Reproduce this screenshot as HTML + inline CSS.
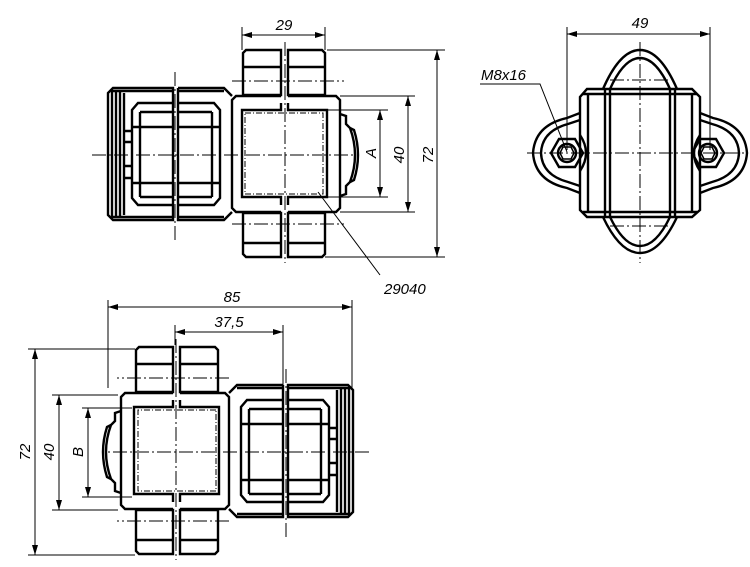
<!DOCTYPE html>
<html><head><meta charset="utf-8"><style>
html,body{margin:0;padding:0;background:#fff}
svg{display:block}
text{font-family:"Liberation Sans",sans-serif;font-style:italic;font-size:15px;fill:#000}
</style></head><body>
<svg width="750" height="567" viewBox="0 0 750 567" xmlns="http://www.w3.org/2000/svg">
<defs>
<marker id="ar" viewBox="0 0 10 6" refX="10" refY="3" markerWidth="11" markerHeight="6" orient="auto-start-reverse" markerUnits="userSpaceOnUse"><path d="M0,0 L10,3 L0,6 z" fill="#000"/></marker>
<g id="v1" fill="none" stroke="#000">
  <g stroke-width="2.4">
    <path d="M246,50 L281,50 L281,95 L243,95 L243,53 Z"/>
    <path d="M288,50 L322,50 L325,53 L325,95 L288,95 Z"/>
    <path d="M243,67 L281,67 M288,67 L325,67"/>
    <path d="M243,213 L281,213 L281,257 L246,257 L243,254 Z"/>
    <path d="M288,213 L325,213 L325,254 L322,257 L288,257 Z"/>
    <path d="M243,243 L281,243 M288,243 L325,243"/>
    <!-- body -->
    <path d="M281,96 L236,96 L232,100 L232,208 L236,212 L281,212"/>
    <path d="M288,96 L336,96 L340,100 L340,208 L336,212 L288,212"/>
    <path d="M281,103 L281,110 L242,110 L242,197 L281,197 L281,205"/>
    <path d="M288,103 L288,110 L327,110 L327,197 L288,197 L288,205"/>
    <path d="M340,114 L346,116 L346,124 L350,128 Q360,155 350,182 L346,186 L346,194 L340,196"/>
    <path d="M350,128 L354,130 Q362,155 354,180 L350,182"/>
    <!-- left nut -->
    <path d="M173,88 L113,88 L108,93 L108,215 L113,220 L173,220 Z"/>
    <path d="M178,88 L224,88 L232,96 M178,88 L178,220 L224,220 L232,212"/>
    <path d="M111,91 L173,91 M111,217 L173,217 M178,91 L224,91 M178,217 L224,217"/>
    <path d="M112,92 L112,216 M116,90 L116,218 M120,92 L120,216 M124,93 L124,215"/>
    <path d="M173,103 L138,103 L132,110 L132,198 L138,205 L173,205"/>
    <path d="M178,103 L214,103 L220,110 L220,198 L214,205 L178,205"/>
    <path d="M140,112 L173,112 M178,112 L212,112 M132,127 L173,127 M178,127 L220,127 M132,183 L173,183 M178,183 L220,183 M140,197 L173,197 M178,197 L212,197"/>
    <path d="M140,112 L140,197 M212,112 L212,197"/>
    <path d="M124,131 L132,131 M124,142 L132,142 M124,166 L132,166 M124,178 L132,178"/>
  </g>
  <path d="M245,113 L323,113 L323,194 L245,194 Z" stroke-width="1" stroke-dasharray="6,2,1,2"/>
  <g stroke-width="1" stroke-dasharray="14,3,2,3">
    <path d="M92,155 L356,155"/>
    <path d="M175,72 L175,243"/>
    <path d="M285,42 L285,263"/>
    <path d="M232,81 L344,81 M232,224 L344,224"/>
  </g>
</g>
</defs>

<use href="#v1"/>
<use href="#v1" transform="translate(461,297) scale(-1,1)"/>

<g fill="none" stroke="#000" stroke-width="1">
  <path d="M242,27 L242,50 M325,27 L325,50"/>
  <path d="M242,35 L325,35" marker-start="url(#ar)" marker-end="url(#ar)"/>
  <path d="M327,50 L445,50 M340,96 L415,96 M327,110 L388,110 M327,197 L388,197 M340,212 L415,212 M325,257 L445,257"/>
  <path d="M380,110 L380,197" marker-start="url(#ar)" marker-end="url(#ar)"/>
  <path d="M408,96 L408,212" marker-start="url(#ar)" marker-end="url(#ar)"/>
  <path d="M437,50 L437,257" marker-start="url(#ar)" marker-end="url(#ar)"/>
  <path d="M318,192 L380,275"/>
  <path d="M108,300 L108,388 M352,300 L352,388 M175,325 L175,345 M283,325 L283,388"/>
  <path d="M108,307 L352,307" marker-start="url(#ar)" marker-end="url(#ar)"/>
  <path d="M175,332 L283,332" marker-start="url(#ar)" marker-end="url(#ar)"/>
  <path d="M28,349 L135,349 M52,395 L118,395 M82,408 L132,408 M82,497 L132,497 M52,510 L118,510 M28,555 L135,555"/>
  <path d="M35,349 L35,555" marker-start="url(#ar)" marker-end="url(#ar)"/>
  <path d="M59,395 L59,510" marker-start="url(#ar)" marker-end="url(#ar)"/>
  <path d="M88,408 L88,497" marker-start="url(#ar)" marker-end="url(#ar)"/>
  <path d="M567,27 L567,150 M710,27 L710,150"/>
  <path d="M567,34 L710,34" marker-start="url(#ar)" marker-end="url(#ar)"/>
  <path d="M480,84 L540,84 L567,152"/>
</g>

<g fill="none" stroke="#000" stroke-width="2.4">
  <path d="M587,89 L692,89 L700,97 L700,210 L692,217 L587,217 L580,210 L580,97 Z"/>
  <path d="M583,94 L697,94 M583,212 L697,212"/>
  <path d="M588,94 L588,212 M605,89 L605,217 M610,89 L610,217 M670,89 L670,217 M675,89 L675,217 M692,94 L692,212"/>
  <path d="M603,89 Q620,50 640,50 Q660,50 677,89"/>
  <path d="M610,89 Q624,58 640,58 Q656,58 670,89"/>
  <path d="M603,217 Q620,253 640,253 Q660,253 677,217"/>
  <path d="M610,217 Q624,246 640,246 Q656,246 670,217"/>
  <path d="M580,113 L567,118 Q535,125 533,153 Q535,181 567,188 L580,193"/>
  <path d="M580,120 L568,124 Q542,131 541,153 Q542,175 568,182 L580,186"/>
  <path d="M700,113 L713,118 Q745,125 747,153 Q745,181 713,188 L700,193"/>
  <path d="M700,120 L712,124 Q738,131 739,153 Q738,175 712,182 L700,186"/>
  <path d="M580,135 Q592,153 580,171 M700,135 Q688,153 700,171"/>
  <polygon points="559,139 575,139 583,153 575,167 559,167 551,153"/>
  <circle cx="567" cy="153" r="9"/>
  <polygon points="563,147 571,147 574,153 571,159 563,159 560,153" stroke-width="1.5"/>
  <polygon points="700,139 716,139 724,153 716,167 700,167 692,153"/>
  <circle cx="708" cy="153" r="9"/>
  <polygon points="704,147 712,147 715,153 712,159 704,159 701,153" stroke-width="1.5"/>
</g>
<g fill="none" stroke="#000" stroke-width="1" stroke-dasharray="14,3,2,3">
  <path d="M527,153 L748,153 M640,42 L640,263 M610,80 L670,80 M610,226 L670,226"/>
</g>

<text x="284" y="30" text-anchor="middle">29</text>
<text transform="translate(376,153) rotate(-90)" text-anchor="middle">A</text>
<text transform="translate(404,155) rotate(-90)" text-anchor="middle">40</text>
<text transform="translate(433,155) rotate(-90)" text-anchor="middle">72</text>
<text x="384" y="294">29040</text>
<text x="232" y="302" text-anchor="middle">85</text>
<text x="229" y="327" text-anchor="middle">37,5</text>
<text transform="translate(30,452) rotate(-90)" text-anchor="middle">72</text>
<text transform="translate(54,452) rotate(-90)" text-anchor="middle">40</text>
<text transform="translate(83,452) rotate(-90)" text-anchor="middle">B</text>
<text x="640" y="28" text-anchor="middle">49</text>
<text x="481" y="80">M8x16</text>
</svg>
</body></html>
